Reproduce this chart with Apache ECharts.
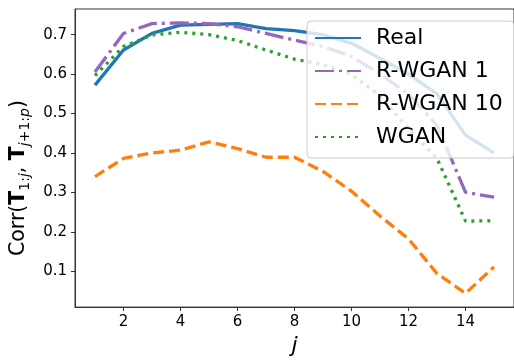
<!DOCTYPE html>
<html>
<head>
<meta charset="utf-8">
<script src="https://cdn.jsdelivr.net/npm/echarts@6/dist/echarts.min.js"></script>
<style>
  html, body { margin: 0; padding: 0; background: #fff; }
  #chart { width: 514px; height: 362px; }
</style>
</head>
<body>
<div id="chart"></div>
<script>
// data
const steps = [1, 2, 3, 4, 5, 6, 7, 8, 9, 10, 11, 12, 13, 14, 15];
const real = [0.572, 0.661, 0.703, 0.724, 0.726, 0.728, 0.715, 0.710, 0.700, 0.678, 0.640, 0.600, 0.550, 0.445, 0.400];
const rwgan1 = [0.605, 0.703, 0.728, 0.730, 0.728, 0.720, 0.703, 0.686, 0.670, 0.645, 0.600, 0.549, 0.470, 0.300, 0.288];
const rwgan10 = [0.340, 0.386, 0.400, 0.407, 0.428, 0.411, 0.389, 0.389, 0.353, 0.303, 0.240, 0.182, 0.094, 0.044, 0.111];
const wgan = [0.596, 0.670, 0.699, 0.706, 0.700, 0.685, 0.661, 0.638, 0.624, 0.599, 0.545, 0.461, 0.386, 0.227, 0.228];
const xTicks = [2, 4, 6, 8, 10, 12, 14];
const yTicks = [0.1, 0.2, 0.3, 0.4, 0.5, 0.6, 0.7];

const FONT = 'DejaVu Sans';
const chart = echarts.init(document.getElementById('chart'));

const pairs = ys => steps.map((x, i) => [x, ys[i]]);

function lineSeries(name, ys, color, dash) {
  return {
    name: name,
    type: 'line',
    data: pairs(ys),
    symbol: 'none',
    showSymbol: false,
    lineStyle: { color: color, width: 3.3, type: dash, cap: 'butt' },
    itemStyle: { color: color },
  };
}

const option = {
  animation: false,
  backgroundColor: '#fff',
  grid: {
    left: 75,
    top: 9,
    width: 447,
    height: 303,
    show: true,
    borderColor: '#333',
    borderWidth: 1,
    backgroundColor: 'transparent',
  },
  xAxis: {
    type: 'value',
    min: 0.3,
    max: 15.7,
    name: 'j',
    nameLocation: 'middle',
    nameGap: 26,
    nameTextStyle: { fontFamily: FONT, fontSize: 22, fontStyle: 'italic', color: '#000' },
    axisLine: { lineStyle: { color: '#333', width: 1 } },
    axisTick: { length: 4, lineStyle: { color: '#333' }, customValues: xTicks },
    axisLabel: { fontFamily: FONT, fontSize: 15, color: '#000', margin: 8, customValues: xTicks },
    splitLine: { show: false },
  },
  yAxis: {
    type: 'value',
    min: 0.009,
    max: 0.765,
    name: '{n|Corr(}{b|T}{s|1:}{si|j}{n|, }{b|T}{si|j}{s|+1:}{si|p}{n|)}',
    nameLocation: 'middle',
    nameRotate: 90,
    nameGap: 37,
    nameTextStyle: {
      fontFamily: FONT,
      color: '#000',
      padding: [0, 40, 0, 0],
      rich: {
        n: { fontFamily: FONT, fontSize: 20.5, color: '#000', lineHeight: 27 },
        b: { fontFamily: FONT, fontSize: 20.5, fontWeight: 'bold', color: '#000', lineHeight: 27 },
        s: { fontFamily: FONT, fontSize: 14, color: '#000', verticalAlign: 'bottom', lineHeight: 14 },
        si: { fontFamily: FONT, fontSize: 14, fontStyle: 'italic', color: '#000', verticalAlign: 'bottom', lineHeight: 14 },
      },
    },
    axisLine: { show: true, lineStyle: { color: '#333', width: 1 } },
    axisTick: { show: true, length: 4, lineStyle: { color: '#333' }, customValues: yTicks },
    axisLabel: { fontFamily: FONT, fontSize: 15, color: '#000', margin: 8, customValues: yTicks },
    splitLine: { show: false },
  },
  legend: {
    orient: 'vertical',
    left: 307,
    top: 21,
    padding: [6, 11, 10, 7],
    itemWidth: 46,
    itemHeight: 14,
    itemGap: 11,
    backgroundColor: 'rgba(255,255,255,0.8)',
    borderColor: '#ccc',
    borderWidth: 1,
    borderRadius: 4,
    // hide the circle ECharts puts on line legend icons
    itemStyle: { color: 'transparent', borderWidth: 0, opacity: 0 },
    textStyle: { fontFamily: FONT, fontSize: 22, color: '#000', lineHeight: 22, padding: [0, 0, 0, 10] },
    data: ['Real', 'R-WGAN 1', 'R-WGAN 10', 'WGAN'],
  },
  series: [
    lineSeries('Real', real, '#1f77b4', 'solid'),
    lineSeries('R-WGAN 1', rwgan1, '#9467bd', [19, 5, 3, 5]),
    lineSeries('R-WGAN 10', rwgan10, '#ff7f0e', [11, 5]),
    lineSeries('WGAN', wgan, '#2ca02c', [3, 5]),
  ],
};

chart.setOption(option);
</script>
</body>
</html>
